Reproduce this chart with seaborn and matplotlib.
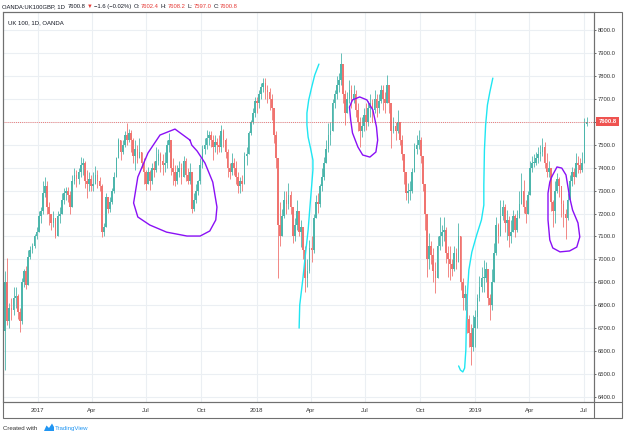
import numpy as np
import pandas as pd
import matplotlib
matplotlib.use('Agg')
import matplotlib.pyplot as plt
from matplotlib.patches import Rectangle, Polygon
from matplotlib.lines import Line2D
from matplotlib.transforms import blended_transform_factory
import seaborn as sns

sns.set_theme(style='white')
plt.rcParams['font.family'] = ['Liberation Sans', 'DejaVu Sans']

# ==================== data: UK100 half-week candles (Mon-Wed / Thu-Fri) ====================
first_open = 6790
closes = [
    6690,
    6900, 6730, 6790, 6780, 6830, 6840, 6770, 6730,                     # Nov 2016
    6900, 6950, 6890, 7010, 7040, 7060, 7100, 7120,                     # Dec
    7190, 7210, 7290, 7320, 7230, 7200, 7160, 7180, 7100, 7190,         # Jan 2017
    7200, 7260, 7290, 7300, 7280, 7230, 7340, 7370,                     # Feb
    7350, 7380, 7410, 7420, 7340, 7330, 7350, 7320,                     # Mar
    7330, 7370, 7340, 7320, 7120, 7140, 7270, 7220,                     # Apr
    7250, 7300, 7360, 7440, 7520, 7470, 7500, 7540, 7520, 7550,         # May
    7520, 7450, 7480, 7440, 7470, 7420, 7380, 7330,                     # Jun
    7380, 7340, 7400, 7390, 7430, 7460, 7430, 7410, 7420, 7500,         # Jul
    7520, 7400, 7380, 7340, 7380, 7400, 7360, 7430,                     # Aug
    7370, 7340, 7380, 7220, 7260, 7300, 7340, 7410,                     # Sep
    7480, 7500, 7530, 7540, 7520, 7490, 7510, 7500, 7490, 7560,         # Oct
    7520, 7470, 7400, 7380, 7420, 7400, 7360, 7320,                     # Nov
    7340, 7330, 7450, 7460, 7550, 7600, 7640, 7690,                     # Dec
    7680, 7720, 7750, 7770, 7740, 7730, 7700, 7660, 7540, 7440,         # Jan 2018
    7150, 7100, 7190, 7260, 7240, 7280, 7230, 7100,                     # Feb
    7150, 7210, 7120, 7140, 7040, 6920, 6950, 7050,                     # Mar
    7040, 7180, 7250, 7240, 7320, 7360, 7420, 7480, 7540, 7560,         # Apr
    7680, 7720, 7760, 7780, 7850, 7720, 7640, 7700,                     # May
    7740, 7700, 7720, 7650, 7600, 7560, 7580, 7630,                     # Jun
    7600, 7660, 7680, 7650, 7700, 7660, 7690, 7740, 7700, 7680,         # Jul
    7760, 7680, 7560, 7580, 7560, 7600, 7520, 7460,                     # Aug
    7380, 7290, 7300, 7300, 7380, 7480, 7500, 7520,                     # Sep
    7450, 7330, 7200, 7000, 7060, 7020, 6950, 6920, 7060, 7100,         # Oct
    7120, 7130, 7030, 7000, 6980, 6960, 7030, 6990,                     # Nov
    7100, 6900, 6830, 6850, 6740, 6680, 6620, 6700,                     # Dec
    6750, 6830, 6880, 6920, 6920, 6960, 6830, 6800, 6900, 7030,         # Jan 2019
    7150, 7100, 7190, 7230, 7160, 7170, 7100, 7120,                     # Feb
    7190, 7130, 7180, 7240, 7300, 7230, 7200, 7280,                     # Mar
    7400, 7420, 7420, 7440, 7460, 7470, 7490, 7420, 7380, 7400,         # Apr
    7250, 7210, 7300, 7350, 7320, 7240, 7200, 7180,                     # May
    7260, 7340, 7380, 7360, 7420, 7410, 7390, 7420,                     # Jun
    7590, 7600.8,                                                       # Jul
]
highs = [
    6800,
    6950, 7005, 6810, 6830, 6880, 6881, 6850, 6790,
    6920, 6960, 6970, 7041, 7060, 7070, 7113, 7140,
    7210, 7230, 7340, 7358, 7340, 7250, 7200, 7210, 7180, 7210,
    7230, 7288, 7310, 7317, 7317, 7300, 7370, 7397,
    7390, 7400, 7448, 7440, 7430, 7390, 7380, 7370,
    7380, 7406, 7390, 7360, 7330, 7160, 7288, 7270,
    7270, 7310, 7380, 7448, 7530, 7520, 7520, 7560, 7596, 7570,
    7564, 7530, 7520, 7500, 7530, 7460, 7440, 7390,
    7404, 7390, 7420, 7430, 7491, 7480, 7470, 7460, 7470, 7520,
    7549, 7510, 7440, 7410, 7410, 7430, 7420, 7450,
    7440, 7400, 7420, 7330, 7290, 7330, 7346, 7440,
    7500, 7530, 7564, 7560, 7560, 7540, 7540, 7530, 7540, 7586,
    7570, 7530, 7480, 7420, 7462, 7440, 7430, 7380,
    7360, 7370, 7470, 7490, 7560, 7607, 7660, 7709,
    7709, 7740, 7770, 7789, 7789, 7760, 7745, 7720, 7640, 7560,
    7300, 7250, 7220, 7300, 7300, 7331, 7300, 7230,
    7180, 7259, 7200, 7172, 7100, 7060, 7000, 7085,
    7100, 7200, 7280, 7290, 7330, 7400, 7448, 7520, 7593, 7600,
    7700, 7740, 7800, 7811, 7901, 7850, 7740, 7730,
    7782, 7760, 7760, 7740, 7680, 7620, 7620, 7660,
    7680, 7690, 7720, 7700, 7738, 7720, 7720, 7760, 7760, 7730,
    7803, 7760, 7660, 7620, 7600, 7651, 7600, 7540,
    7460, 7380, 7331, 7340, 7400, 7506, 7540, 7564,
    7535, 7450, 7320, 7150, 7114, 7080, 7050, 6990, 7100, 7186,
    7150, 7186, 7140, 7060, 7060, 7000, 7060, 7050,
    7157, 7050, 6920, 6890, 6860, 6760, 6720, 6760,
    6780, 6850, 6930, 6968, 6997, 6990, 6940, 6850, 6960, 7070,
    7186, 7160, 7259, 7259, 7240, 7215, 7190, 7170,
    7215, 7200, 7215, 7300, 7375, 7346, 7260, 7300,
    7430, 7450, 7460, 7470, 7490, 7500, 7527, 7510, 7462, 7430,
    7380, 7260, 7340, 7375, 7360, 7320, 7259, 7220,
    7290, 7370, 7404, 7400, 7462, 7450, 7440, 7470,
    7615, 7622,
]
lows = [
    6660,
    6518, 6714, 6700, 6735, 6760, 6790, 6740, 6685,
    6720, 6880, 6870, 6930, 7000, 7030, 7050, 7090,
    7120, 7160, 7200, 7270, 7200, 7150, 7130, 7140, 7092, 7100,
    7160, 7200, 7240, 7260, 7250, 7200, 7250, 7330,
    7317, 7330, 7360, 7370, 7310, 7266, 7300, 7300,
    7300, 7330, 7310, 7300, 7099, 7100, 7140, 7201,
    7208, 7240, 7290, 7360, 7440, 7433, 7460, 7490, 7500, 7510,
    7470, 7419, 7390, 7419, 7448, 7400, 7330, 7302,
    7330, 7302, 7330, 7360, 7380, 7410, 7380, 7370, 7380, 7400,
    7470, 7370, 7324, 7320, 7330, 7360, 7330, 7360,
    7340, 7330, 7330, 7201, 7210, 7244, 7280, 7330,
    7400, 7460, 7480, 7500, 7490, 7433, 7470, 7460, 7470, 7470,
    7490, 7440, 7361, 7350, 7370, 7370, 7330, 7288,
    7288, 7300, 7330, 7410, 7470, 7540, 7590, 7620,
    7640, 7660, 7700, 7730, 7700, 7680, 7650, 7607, 7506, 7400,
    6918, 7060, 7110, 7180, 7200, 7220, 7200, 7070,
    7080, 7130, 7100, 7056, 7000, 6860, 6880, 6940,
    6990, 7030, 7180, 7201, 7230, 7300, 7346, 7420, 7470, 7500,
    7560, 7660, 7700, 7730, 7760, 7680, 7586, 7640,
    7680, 7660, 7680, 7620, 7560, 7491, 7535, 7560,
    7564, 7580, 7620, 7600, 7640, 7620, 7640, 7680, 7650, 7640,
    7690, 7640, 7484, 7549, 7520, 7550, 7500, 7433,
    7330, 7260, 7244, 7260, 7290, 7380, 7460, 7480,
    7420, 7300, 7128, 6925, 6960, 6980, 6900, 6852, 6920, 7040,
    7060, 7080, 6983, 6925, 6910, 6930, 6950, 6960,
    7000, 6867, 6780, 6780, 6678, 6620, 6540, 6600,
    6620, 6700, 6820, 6860, 6860, 6900, 6800, 6736, 6780, 6900,
    7020, 7070, 7120, 7170, 7120, 7085, 7055, 7070,
    7120, 7099, 7120, 7200, 7260, 7201, 7160, 7210,
    7300, 7380, 7404, 7410, 7420, 7430, 7450, 7400, 7360, 7360,
    7210, 7143, 7160, 7290, 7270, 7186, 7140, 7087,
    7170, 7260, 7320, 7330, 7360, 7375, 7375, 7380,
    7420, 7580,
]
bar_start = '2016-11-04 06:00'

# hand drawn marks on the chart
loop1_dates = ['2017-09-12', '2017-08-18', '2017-07-24', '2017-07-04', '2017-06-17', '2017-06-10',
               '2017-06-17', '2017-07-07', '2017-08-04', '2017-09-07', '2017-09-29', '2017-10-15',
               '2017-10-25', '2017-10-27', '2017-10-20', '2017-10-07', '2017-09-24', '2017-09-15',
               '2017-09-12']
loop1_prices = [7520, 7568, 7542, 7464, 7359, 7246, 7185, 7150, 7119, 7102, 7102, 7124,
                7172, 7228, 7337, 7420, 7472, 7498, 7520]
loop2_dates = ['2018-06-05', '2018-06-10', '2018-06-22', '2018-07-04', '2018-07-14', '2018-07-20',
               '2018-07-22', '2018-07-19', '2018-07-09', '2018-06-27', '2018-06-19', '2018-06-10',
               '2018-06-07', '2018-06-05']
loop2_prices = [7664, 7695, 7708, 7695, 7651, 7577, 7520, 7468, 7446, 7455, 7490, 7551, 7607, 7664]
loop3_dates = ['2019-05-08', '2019-05-17', '2019-05-25', '2019-06-01', '2019-06-07', '2019-06-12',
               '2019-06-21', '2019-06-24', '2019-06-19', '2019-06-07', '2019-05-22', '2019-05-10',
               '2019-05-05', '2019-05-02', '2019-05-02', '2019-05-05', '2019-05-08']
loop3_prices = [7359, 7403, 7398, 7368, 7272, 7215, 7159, 7098, 7054, 7037, 7033, 7050,
                7085, 7172, 7289, 7337, 7359]
cyan1_dates = ['2018-03-13', '2018-03-14', '2018-03-19', '2018-03-23', '2018-03-28', '2018-03-31',
               '2018-04-03', '2018-04-05', '2018-04-05', '2018-04-01', '2018-03-28', '2018-03-26',
               '2018-03-26', '2018-03-29', '2018-04-03', '2018-04-08', '2018-04-15']
cyan1_prices = [6701, 6801, 6910, 7010, 7128, 7228, 7324, 7390, 7433, 7485, 7533, 7586,
                7638, 7695, 7751, 7803, 7851]
cyan2_dates = ['2018-12-04', '2018-12-07', '2018-12-11', '2018-12-14', '2018-12-16', '2018-12-17',
               '2018-12-19', '2018-12-21', '2018-12-26', '2019-01-03', '2019-01-11', '2019-01-15',
               '2019-01-15', '2019-01-16', '2019-01-18', '2019-01-21', '2019-01-25', '2019-01-30']
cyan2_prices = [6536, 6518, 6510, 6527, 6605, 6736, 6867, 6954, 7032, 7106, 7172, 7237,
                7324, 7477, 7586, 7673, 7729, 7790]

tick_dates = ['2017-01-01', '2017-04-01', '2017-07-01', '2017-10-01', '2018-01-01', '2018-04-01',
              '2018-07-01', '2018-10-01', '2019-01-01', '2019-04-01', '2019-07-01']
tick_labels = ['2017', 'Apr', 'Jul', 'Oct', '2018', 'Apr', 'Jul', 'Oct', '2019', 'Apr', 'Jul']
price_ticks = list(range(6400, 8001, 100))

assert len(closes) == len(highs) == len(lows)

UP = '#4db6ac'
DOWN = '#f07470'
PURPLE = '#8a10f5'
CYAN = '#1fe6f2'
FRAME = '#707070'
TXT = '#131722'
RED = '#e53935'

W, H = 625, 436
fig = plt.figure(figsize=(W / 100, H / 100), dpi=100)
fig.patch.set_facecolor('white')

def fx(px):
    return px / W

def fy(py):
    return 1 - py / H

ax = fig.add_axes([fx(3), fy(402), (594 - 3) / W, (402 - 12) / H])
ax.set_facecolor('white')

# ==================== candles ====================
dates = pd.date_range(bar_start, periods=len(closes), freq='84h')
c = np.array(closes, float)
o = np.r_[first_open, c[:-1]]
hi = np.maximum(np.array(highs, float), np.maximum(o, c))
lo = np.minimum(np.array(lows, float), np.minimum(o, c))
col = np.where(c >= o, UP, DOWN)

ax.vlines(dates, lo, hi, colors=col, linewidth=0.6, zorder=2)
ax.bar(dates, np.maximum(np.abs(c - o), 3), bottom=np.minimum(o, c), width=2.8,
       color=col, linewidth=0, zorder=2)

# ==================== hand drawn marks ====================
for d, p, lc in [(loop1_dates, loop1_prices, PURPLE), (loop2_dates, loop2_prices, PURPLE),
                 (loop3_dates, loop3_prices, PURPLE), (cyan1_dates, cyan1_prices, CYAN),
                 (cyan2_dates, cyan2_prices, CYAN)]:
    sns.lineplot(x=pd.to_datetime(d), y=p, sort=False, estimator=None, color=lc,
                 linewidth=1.0, ax=ax, zorder=4)

# last price line
ax.axhline(closes[-1], color='#ef5350', linewidth=0.6, linestyle=(0, (1, 1.5)), zorder=3)

# ==================== axes ====================
ax.set_xlim(pd.Timestamp('2016-11-04 05:00'), pd.Timestamp('2019-07-17 17:00'))
ax.set_ylim(6379, 8078)
ax.set_xlabel('')
ax.set_ylabel('')

ax.set_xticks(pd.to_datetime(tick_dates))
ax.set_xticklabels(tick_labels)
ax.set_yticks(price_ticks)
ax.set_yticklabels([f'{v:.1f}' for v in price_ticks])
ax.yaxis.tick_right()
ax.tick_params(axis='x', length=0, pad=4, labelsize=4.3, labelcolor='#333333')
ax.tick_params(axis='y', direction='out', length=1.5, width=0.6, color='#555555',
               pad=1.2, labelsize=4.2, labelcolor='#333333')
ax.grid(True, color='#ebeff3', linewidth=0.8)
ax.set_axisbelow(True)
for s in ax.spines.values():
    s.set_color(FRAME)
    s.set_linewidth(0.8)

# price tag on the scale
tr = blended_transform_factory(ax.transAxes, ax.transData)
ax.text(1.0075, closes[-1], f'{closes[-1]:.1f}', transform=tr, ha='left', va='center',
        fontsize=4.2, color='white', fontweight='bold',
        bbox=dict(boxstyle='square,pad=0.35', fc='#ef5350', ec='none'), zorder=6)

# outer frame for price and time scales
fig.patches.append(Rectangle((fx(3), fy(418)), fx(622) - fx(3), fy(12) - fy(418), fill=False,
                             ec=FRAME, lw=0.8, transform=fig.transFigure, figure=fig))
fig.lines.append(Line2D([fx(3), fx(622)], [fy(402), fy(402)], color=FRAME, lw=0.8,
                        transform=fig.transFigure, figure=fig))
fig.lines.append(Line2D([fx(594), fx(594)], [fy(12), fy(418)], color=FRAME, lw=0.8,
                        transform=fig.transFigure, figure=fig))

# ==================== texts ====================
# header pieces placed one after another
renderer = fig.canvas.get_renderer()
head = [('OANDA:UK100GBP, 1D', TXT, 3), ('7600.8', TXT, 1), ('▼', RED, 1),
        ('−1.6 (−0.02%)', TXT, 3), ('O:', TXT, 1), ('7602.4', RED, 2),
        ('H:', TXT, 1), ('7608.2', RED, 2), ('L:', TXT, 1), ('7597.0', RED, 2),
        ('C:', TXT, 1), ('7600.8', RED, 0)]
hx = 2
for s, tc, gap in head:
    t = fig.text(fx(hx), fy(6.5), s, fontsize=4.2, color=tc, ha='left', va='center')
    hx = t.get_window_extent(renderer).x1 + gap

fig.text(fx(8), fy(22.5), 'UK 100, 1D, OANDA', fontsize=4.3, color=TXT, ha='left', va='center')

fig.text(fx(3), fy(428), 'Created with', fontsize=4.4, color='#333333', ha='left', va='center')
fig.patches.append(Polygon([(fx(44), fy(431)), (fx(46.5), fy(425.5)), (fx(49), fy(428)),
                            (fx(52), fy(423.5)), (fx(54), fy(427)), (fx(54), fy(431))],
                           closed=True, fc='#2196f3', ec='none', transform=fig.transFigure, figure=fig))
fig.text(fx(55), fy(428), 'TradingView', fontsize=4.4, color='#2196f3', ha='left', va='center')

fig.savefig('out.png', dpi=100, facecolor='white')
